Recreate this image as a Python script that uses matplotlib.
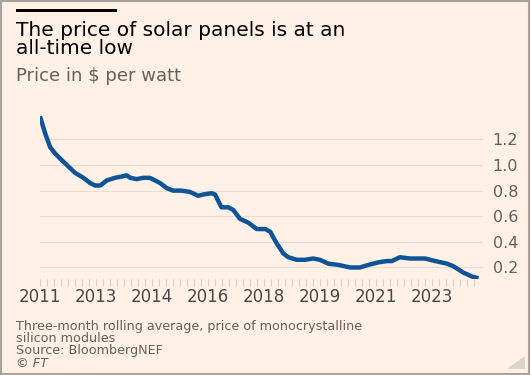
import matplotlib
matplotlib.use("Agg")
import matplotlib.pyplot as plt
from matplotlib.patches import Rectangle, Polygon
import numpy as np

# ---- data (decimal year, $ per watt) ----
dates = [2011.50, 2011.65, 2011.80, 2011.95, 2012.14, 2012.34, 2012.54, 2012.79,
         2012.99, 2013.14, 2013.29, 2013.49, 2013.73, 2013.93, 2014.08, 2014.18,
         2014.38, 2014.57, 2014.77, 2014.92, 2015.07, 2015.27, 2015.46, 2015.71,
         2015.96, 2016.21, 2016.36, 2016.61, 2016.71, 2016.90, 2017.10, 2017.25,
         2017.45, 2017.70, 2017.95, 2018.20, 2018.35, 2018.54, 2018.74, 2018.89,
         2019.14, 2019.39, 2019.63, 2019.83, 2020.08, 2020.38, 2020.73, 2021.02,
         2021.27, 2021.57, 2021.82, 2021.97, 2022.21, 2022.51, 2022.96, 2023.26,
         2023.61, 2023.80, 2024.10, 2024.35, 2024.55]
prices = [1.38, 1.25, 1.14, 1.09, 1.04, 0.99, 0.94, 0.90,
          0.86, 0.84, 0.84, 0.88, 0.90, 0.91, 0.92, 0.90,
          0.89, 0.90, 0.90, 0.88, 0.86, 0.82, 0.80, 0.80,
          0.79, 0.76, 0.77, 0.78, 0.77, 0.67, 0.67, 0.65,
          0.58, 0.55, 0.50, 0.50, 0.48, 0.39, 0.31, 0.28,
          0.26, 0.26, 0.27, 0.26, 0.23, 0.22, 0.20, 0.20,
          0.22, 0.24, 0.25, 0.25, 0.28, 0.27, 0.27, 0.25,
          0.23, 0.21, 0.16, 0.13, 0.115]

x_tick_pos = [2011.5 + k * 20 / 12 for k in range(8)]
x_tick_labels = ["2011", "2013", "2014", "2016", "2018", "2019", "2021", "2023"]
y_ticks = [0.2, 0.4, 0.6, 0.8, 1.0, 1.2]

title = "The price of solar panels is at an\nall-time low"
subtitle = "Price in $ per watt"
footer = ("Three-month rolling average, price of monocrystalline\n"
          "silicon modules\nSource: BloombergNEF")

BG = "#FFF1E5"
LINE = "#0F5499"
GRID = "#E9DDD2"
GREY = "#66605C"

W, H = 531, 375
fig = plt.figure(figsize=(W / 100, H / 100), dpi=100, facecolor=BG)
plt.rcParams["font.family"] = ["DejaVu Sans"]

def fx(px):
    return px / W

def fy(py):
    return 1 - py / H

ax = fig.add_axes([fx(40), fy(279), fx(483) - fx(40), fy(113.8) - fy(279)])
ax.set_facecolor(BG)
ax.plot(dates, prices, color=LINE, lw=3.2, solid_capstyle="butt", zorder=3)

ax.set_xlim(2011.5, 2011.5 + 443 / 33.6)
ax.set_ylim(0.11, 1.40)

ax.set_yticks(y_ticks)
ax.set_yticklabels([f"{v:.1f}" for v in y_ticks])
ax.yaxis.tick_right()
ax.tick_params(axis="y", length=0, pad=7, labelsize=11.5, labelcolor=GREY)
for lab in ax.get_yticklabels():
    lab.set_horizontalalignment("left")
ax.grid(axis="y", color=GRID, lw=0.8)

ax.set_xticks(x_tick_pos)
ax.set_xticklabels(x_tick_labels)
minor = np.arange(2011.5, 2024.5, 20 / 12 / 8)
ax.set_xticks(minor, minor=True)
ax.tick_params(axis="x", which="both", length=5, width=0.6, color="#CEC6BE",
               direction="out", pad=1.5, labelsize=12, labelcolor="#4D4845")

for s in ax.spines.values():
    s.set_visible(False)

# header
fig.add_artist(Rectangle((fx(16), fy(12)), fx(117) - fx(16), fy(9) - fy(12),
                         transform=fig.transFigure, color="black", lw=0))
fig.text(fx(16), fy(20.5), title, ha="left", va="top", fontsize=14.5,
         color="#000000", linespacing=0.98)
fig.text(fx(16), fy(67), subtitle, ha="left", va="top", fontsize=13,
         color=GREY)

# footer
fig.text(fx(16), fy(320), footer, ha="left", va="top", fontsize=9.2,
         color=GREY, linespacing=0.9)
fig.text(fx(16), fy(357), "© FT", ha="left", va="top", fontsize=9.2,
         color=GREY, style="italic")

# frame and resize grip
fig.add_artist(Rectangle((0.0015, 0.002), 0.995, 0.995, transform=fig.transFigure,
                         fill=False, edgecolor="#A8A29E", lw=1.5))
fig.add_artist(Polygon([[fx(525), fy(369)], [fx(507), fy(369)], [fx(525), fy(356)]],
                       closed=True, transform=fig.transFigure, color="#DCD3CB", lw=0))

fig.savefig("out.png", dpi=100, facecolor=BG)
